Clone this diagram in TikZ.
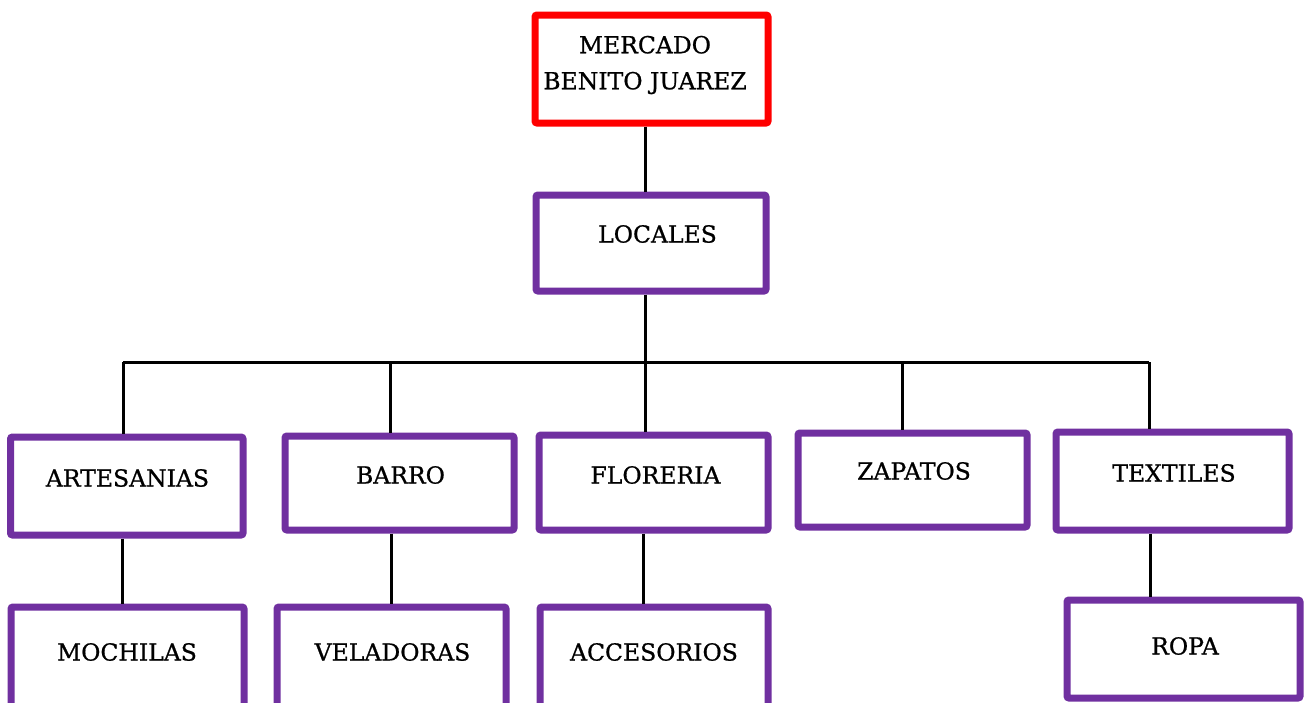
\documentclass[tikz,border=0pt]{standalone}
\usepackage{fontspec}
\setmainfont{DejaVu Serif}[FakeBold=0.8]
\definecolor{boxpurple}{HTML}{7030A0}
\definecolor{boxred}{HTML}{FF0000}
\tikzset{
  box/.style={draw=boxpurple, line width=7pt, fill=white, rounded corners=2pt, inner sep=0pt},
  redbox/.style={box, draw=boxred},
  lbl/.style={font=\fontsize{23.5}{36}\selectfont, text=black, inner sep=0pt, align=center},
  conn/.style={draw=black, line width=3pt}
}
\begin{document}
\begin{tikzpicture}[x=1pt,y=-1pt]
\useasboundingbox (0,0) rectangle (1306,702);
\begin{scope}
\clip (0,0) rectangle (1306,702);
% bar coordinates
\coordinate (b0) at (645,362);
\coordinate (b1) at (123,362);
\coordinate (b2) at (390,362);
\coordinate (b3) at (645,362);
\coordinate (b4) at (902,362);
\coordinate (b5) at (1149,362);
% boxes
\node[redbox, minimum width=233pt, minimum height=108pt] (merc) at (651.5,69) {};
\node[box, minimum width=230pt, minimum height=96pt] (loc) at (651,243) {};
\node[box, minimum width=232.5pt, minimum height=98pt] (art) at (126.75,486) {};
\node[box, minimum width=229pt, minimum height=94pt] (bar) at (399.5,483) {};
\node[box, minimum width=229pt, minimum height=95pt] (flo) at (653.5,482.5) {};
\node[box, minimum width=229pt, minimum height=94pt] (zap) at (912.5,480) {};
\node[box, minimum width=233pt, minimum height=98pt] (tex) at (1172.5,481) {};
\node[box, minimum width=233pt, minimum height=110pt] (moc) at (127.5,662) {};
\node[box, minimum width=229pt, minimum height=110pt] (vel) at (391.5,662) {};
\node[box, minimum width=228pt, minimum height=110pt] (acc) at (654,662) {};
\node[box, minimum width=233pt, minimum height=98pt] (rop) at (1183.5,649) {};
% connectors
\draw[conn] ([xshift=-6.5pt]merc.south) -- ([xshift=-6pt]loc.north);
\draw[conn] (b0 |- loc.south) -- (b0);
\draw[conn] (b1) -- (b5);
\draw[conn] (b1) -- (b1 |- art.north);
\draw[conn] (b2) -- (b2 |- bar.north);
\draw[conn] (b3) -- (b3 |- flo.north);
\draw[conn] (b4) -- (b4 |- zap.north);
\draw[conn] (b5) -- (b5 |- tex.north);
\draw[conn] ([xshift=-4.75pt]art.south) -- ([xshift=-5.5pt]moc.north);
\draw[conn] ([xshift=-8.5pt]bar.south) -- ([xshift=-0.5pt]vel.north);
\draw[conn] ([xshift=-10.5pt]flo.south) -- ([xshift=-11pt]acc.north);
\draw[conn] ([xshift=-22.5pt]tex.south) -- ([xshift=-33.5pt]rop.north);
% labels
\node[lbl] (tmerc) at (645,65) {MERCADO\\BENITO JUAREZ};
\node[lbl] (tloc) at (657.5,234) {LOCALES};
\node[lbl] (tart) at (127.5,478) {ARTESANIAS};
\node[lbl] (tbar) at (400.5,475) {BARRO};
\node[lbl] (tflo) at (655.5,475) {FLORERIA};
\node[lbl] (tzap) at (914,471) {ZAPATOS};
\node[lbl] (ttex) at (1174,473) {TEXTILES};
\node[lbl] (tmoc) at (127,652) {MOCHILAS};
\node[lbl] (tvel) at (392.5,652) {VELADORAS};
\node[lbl] (tacc) at (654,652) {ACCESORIOS};
\node[lbl] (trop) at (1185,646) {ROPA};
\end{scope}
\end{tikzpicture}
\end{document}
